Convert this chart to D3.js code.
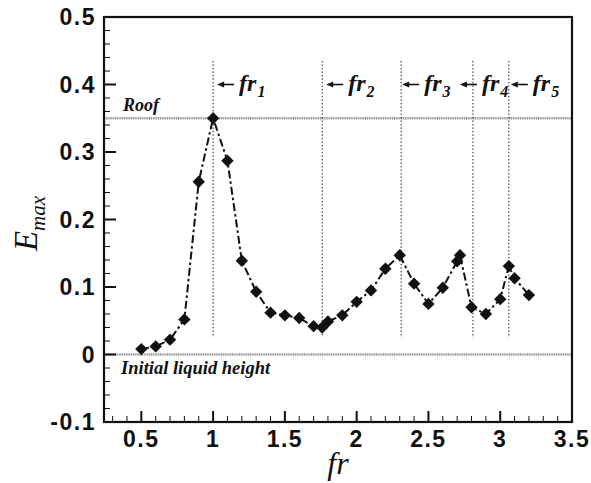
<!DOCTYPE html>
<html>
<head>
<meta charset="utf-8">
<script src="https://cdn.jsdelivr.net/npm/d3@7"></script>
<style>
  html, body { margin: 0; padding: 0; background: #fff; }
  svg { display: block; }
</style>
</head>
<body>
<svg id="chart" width="591" height="483"></svg>
<script>
// Froude-number sweep: maximum free-surface elevation
const frValues   = [0.5, 0.6, 0.7, 0.8, 0.9, 1.0, 1.1, 1.2, 1.3, 1.4, 1.5, 1.6, 1.7, 1.76, 1.8, 1.9, 2.0, 2.1, 2.2, 2.3, 2.4, 2.5, 2.6, 2.7, 2.72, 2.8, 2.9, 3.0, 3.06, 3.1, 3.2];
const emaxValues = [0.008, 0.012, 0.022, 0.052, 0.256, 0.350, 0.287, 0.139, 0.093, 0.062, 0.058, 0.054, 0.042, 0.040, 0.049, 0.058, 0.078, 0.095, 0.127, 0.147, 0.105, 0.075, 0.099, 0.138, 0.147, 0.070, 0.060, 0.082, 0.131, 0.113, 0.088];

// Resonant Froude numbers and their labels
const resonanceFr  = [1.0, 1.76, 2.31, 2.81, 3.06];
const resonanceSub = ["1", "2", "3", "4", "5"];

// Reference levels
const roofLevel = 0.35;
const initialLevel = 0.0;

// Axis ticks
const xTickValues = [0.5, 1, 1.5, 2, 2.5, 3, 3.5];
const xTickLabels = ["0.5", "1", "1.5", "2", "2.5", "3", "3.5"];
const yTickValues = [-0.1, 0, 0.1, 0.2, 0.3, 0.4, 0.5];
const yTickLabels = ["-0.1", "0", "0.1", "0.2", "0.3", "0.4", "0.5"];

const svg = d3.select("#chart");
const plotLeft = 104, plotRight = 572, plotTop = 17, plotBottom = 422;

const x = d3.scaleLinear().domain([0.24, 3.5]).range([plotLeft, plotRight]);
const y = d3.scaleLinear().domain([-0.1, 0.5]).range([plotBottom, plotTop]);

const serif = "Liberation Serif, DejaVu Serif, Times New Roman, serif";
const sans = "Liberation Sans, Arial, sans-serif";

// Reference levels (roof, initial liquid height)
[roofLevel, initialLevel].forEach(v => {
  svg.append("line")
    .attr("x1", plotLeft).attr("x2", plotRight)
    .attr("y1", y(v)).attr("y2", y(v))
    .attr("stroke", "#999").attr("stroke-width", 2.4)
    .attr("stroke-dasharray", "1.2,0.6");
});

svg.append("text")
  .attr("x", plotLeft + 19).attr("y", y(roofLevel) - 7)
  .style("font-family", serif).attr("font-style", "italic").attr("font-weight", "bold")
  .attr("font-size", 18).attr("fill", "#111")
  .text("Roof");

svg.append("text")
  .attr("x", plotLeft + 17).attr("y", y(initialLevel) + 19)
  .style("font-family", serif).attr("font-style", "italic").attr("font-weight", "bold")
  .attr("font-size", 18.5).attr("fill", "#111")
  .text("Initial liquid height");

// Resonance markers: dotted verticals with arrow labels
const labelShift = [4, 4, 1, -13, 2];
resonanceFr.forEach((f, i) => {
  const xp = x(f);
  svg.append("line")
    .attr("x1", xp).attr("x2", xp)
    .attr("y1", y(0.435)).attr("y2", y(0.025))
    .attr("stroke", "#222").attr("stroke-width", 1)
    .attr("stroke-dasharray", "1.5,2");

  const ax = xp + labelShift[i];
  const ay = 84.5;
  const g = svg.append("g");
  g.append("line")
    .attr("x1", ax + 5).attr("x2", ax + 17)
    .attr("y1", ay).attr("y2", ay)
    .attr("stroke", "#111").attr("stroke-width", 1.6);
  g.append("path")
    .attr("d", `M${ax},${ay} L${ax + 7},${ay - 3} L${ax + 7},${ay + 3} Z`)
    .attr("fill", "#111");
  const t = g.append("text")
    .attr("x", ax + 22).attr("y", ay + 6)
    .style("font-family", serif).attr("font-style", "italic").attr("font-weight", "bold")
    .attr("font-size", 24).attr("fill", "#111");
  t.append("tspan").text("fr");
  t.append("tspan").attr("dy", 6).attr("dx", 1).attr("font-size", 16).text(resonanceSub[i]);
});

// Data line (dash-dot) and diamond markers
const pts = frValues.map((f, i) => [f, emaxValues[i]]);
svg.append("path")
  .datum(pts)
  .attr("d", d3.line().x(d => x(d[0])).y(d => y(d[1])))
  .attr("fill", "none").attr("stroke", "#111").attr("stroke-width", 2)
  .attr("stroke-dasharray", "8,3,2.5,3");

const r = 6.2;
svg.append("g").selectAll("path")
  .data(pts)
  .join("path")
  .attr("d", d => {
    const cx = x(d[0]), cy = y(d[1]);
    return `M${cx},${cy - r} L${cx + r},${cy} L${cx},${cy + r} L${cx - r},${cy} Z`;
  })
  .attr("fill", "#111");

// Frame
svg.append("rect")
  .attr("x", plotLeft).attr("y", plotTop)
  .attr("width", plotRight - plotLeft).attr("height", plotBottom - plotTop)
  .attr("fill", "none").attr("stroke", "#111").attr("stroke-width", 2.2);

// Bottom axis: ticks drawn inward
const xMinor = d3.range(0.3, 3.5001, 0.1).map(v => +v.toFixed(2));
const xAxis = svg.append("g");
xMinor.forEach(v => {
  const isMajor = xTickValues.some(t => Math.abs(t - v) < 1e-6);
  xAxis.append("line")
    .attr("x1", x(v)).attr("x2", x(v))
    .attr("y1", plotBottom).attr("y2", plotBottom - (isMajor ? 11 : 6))
    .attr("stroke", "#111").attr("stroke-width", isMajor ? 2 : 1);
});
xTickValues.forEach((v, i) => {
  xAxis.append("text")
    .attr("x", x(v)).attr("y", plotBottom + 25)
    .attr("text-anchor", "middle")
    .style("font-family", sans).attr("font-weight", "bold")
    .attr("font-size", 23).attr("letter-spacing", 1.5).attr("fill", "#111")
    .text(xTickLabels[i]);
});

// Left axis
const yMinor = d3.range(-0.1, 0.5001, 0.02).map(v => +v.toFixed(3));
const yAxis = svg.append("g");
yMinor.forEach(v => {
  const isMajor = yTickValues.some(t => Math.abs(t - v) < 1e-6);
  yAxis.append("line")
    .attr("x1", plotLeft).attr("x2", plotLeft + (isMajor ? 12 : 6))
    .attr("y1", y(v)).attr("y2", y(v))
    .attr("stroke", "#111").attr("stroke-width", isMajor ? 2 : 1);
});
yTickValues.forEach((v, i) => {
  yAxis.append("text")
    .attr("x", plotLeft - 8).attr("y", y(v) + 8)
    .attr("text-anchor", "end")
    .style("font-family", sans).attr("font-weight", "bold")
    .attr("font-size", 23).attr("letter-spacing", 1.5).attr("fill", "#111")
    .text(yTickLabels[i]);
});

// Axis titles
svg.append("text")
  .attr("x", (plotLeft + plotRight) / 2).attr("y", 474)
  .attr("text-anchor", "middle")
  .style("font-family", serif).attr("font-style", "italic")
  .attr("font-size", 32).attr("fill", "#111")
  .text("fr");

const yt = svg.append("text")
  .attr("transform", `translate(37,${(plotTop + plotBottom) / 2 + 4}) rotate(-90)`)
  .attr("text-anchor", "middle")
  .style("font-family", serif).attr("font-style", "italic")
  .attr("font-size", 33).attr("fill", "#111");
yt.append("tspan").text("E");
yt.append("tspan").attr("dy", 8).attr("font-size", 21).text("max");
</script>
</body>
</html>
